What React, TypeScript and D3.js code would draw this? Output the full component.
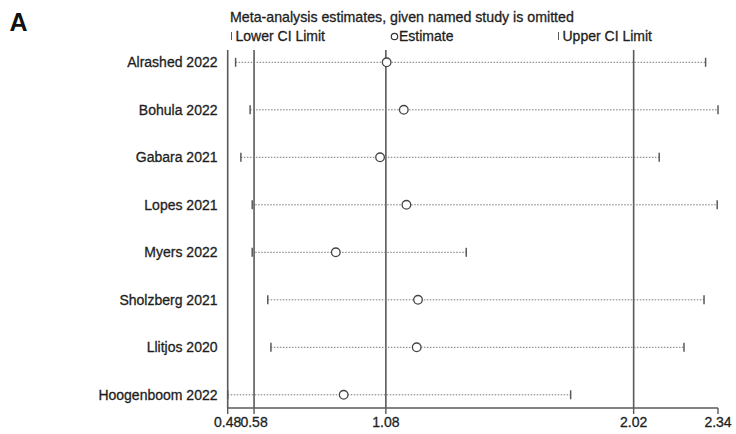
import React from "react";
import * as d3 from "d3";

// Leave-one-out sensitivity estimates (pooled estimate with each study omitted)
const studies = [
  "Alrashed 2022",
  "Bohula 2022",
  "Gabara 2021",
  "Lopes 2021",
  "Myers 2022",
  "Sholzberg 2021",
  "Llitjos 2020",
  "Hoogenboom 2022",
];
const lowerCI = [0.51, 0.565, 0.53, 0.573, 0.573, 0.632, 0.644, 0.48];
const estimates = [1.083, 1.148, 1.058, 1.158, 0.89, 1.202, 1.197, 0.92];
const upperCI = [2.293, 2.34, 2.117, 2.337, 1.385, 2.287, 2.211, 1.781];

// Axis ticks: min, overall lower CI, overall estimate, overall upper CI, max
const tickValues = [0.48, 0.58, 1.08, 2.02, 2.34];
const refLines = [0.48, 0.58, 1.08, 2.02];

const W = 736;
const H = 434;
const FONT = "'Liberation Sans', Arial, Helvetica, sans-serif";

export default function App() {
  const x = d3.scaleLinear().domain([0.48, 2.34]).range([227.7, 718]);
  const y = d3
    .scalePoint<string>()
    .domain(studies)
    .range([62.3, 394.8]);

  const axisY = 408;
  const plotTop = 50;
  const grey = "#5a5a5a";
  const ink = "#1e1e1e";
  const textProps = { fill: ink, stroke: ink, strokeWidth: 0.3 };

  return (
    <svg
      width={W}
      height={H}
      style={{ position: "absolute", left: 0, top: 0, background: "#fff" }}
      fontFamily={FONT}
    >
      <rect width={W} height={H} fill="#fff" />
      {/* panel letter */}
      <text x={9.5} y={31} fontSize={25} fontWeight="bold" fill="#111">
        A
      </text>

      {/* title and legend */}
      <text x={230} y={22} fontSize={14.2} {...textProps}>
        Meta-analysis estimates, given named study is omitted
      </text>
      <line x1={231.5} x2={231.5} y1={32} y2={40} stroke={grey} strokeWidth={1} />
      <text x={235.5} y={41} fontSize={14} {...textProps}>
        Lower CI Limit
      </text>
      <circle cx={394.5} cy={36.5} r={3.2} fill="none" stroke="#333" strokeWidth={1.2} />
      <text x={399} y={41} fontSize={14} {...textProps}>
        Estimate
      </text>
      <line x1={558.5} x2={558.5} y1={32} y2={40} stroke={grey} strokeWidth={1} />
      <text x={562.5} y={41} fontSize={14} {...textProps}>
        Upper CI Limit
      </text>

      {/* vertical reference lines */}
      {refLines.map((v) => (
        <line
          key={"ref" + v}
          x1={x(v)}
          x2={x(v)}
          y1={plotTop}
          y2={axisY}
          stroke={grey}
          strokeWidth={1.6}
        />
      ))}

      {/* x axis */}
      <line x1={x(0.48)} x2={x(2.34)} y1={axisY} y2={axisY} stroke={grey} strokeWidth={1.6} />
      {tickValues.map((v) => (
        <g key={"t" + v}>
          <line x1={x(v)} x2={x(v)} y1={axisY} y2={axisY + 6} stroke={grey} strokeWidth={1.4} />
          <text x={x(v)} y={427} fontSize={14} textAnchor="middle" {...textProps}>
            {v.toFixed(2)}
          </text>
        </g>
      ))}

      {/* study rows */}
      {studies.map((s, i) => {
        const yy = y(s) as number;
        return (
          <g key={s}>
            <text x={217.5} y={yy + 5} fontSize={14} textAnchor="end" {...textProps}>
              {s}
            </text>
            <line
              x1={x(lowerCI[i])}
              x2={x(upperCI[i])}
              y1={yy}
              y2={yy}
              stroke="#777"
              strokeWidth={1}
              strokeDasharray="1.5,1.5"
            />
            <line
              x1={x(lowerCI[i])}
              x2={x(lowerCI[i])}
              y1={yy - 4.5}
              y2={yy + 4.5}
              stroke={grey}
              strokeWidth={1.5}
            />
            <line
              x1={x(upperCI[i])}
              x2={x(upperCI[i])}
              y1={yy - 4.5}
              y2={yy + 4.5}
              stroke={grey}
              strokeWidth={1.5}
            />
            <circle
              cx={x(estimates[i])}
              cy={yy}
              r={4.3}
              fill="#fff"
              stroke="#444"
              strokeWidth={1.3}
            />
          </g>
        );
      })}
    </svg>
  );
}
